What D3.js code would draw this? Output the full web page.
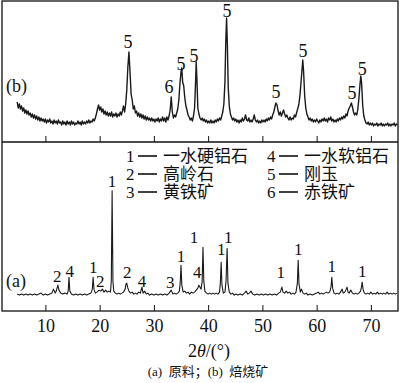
<!DOCTYPE html>
<html>
<head>
<meta charset="utf-8">
<script src="https://cdnjs.cloudflare.com/ajax/libs/d3/7.8.5/d3.min.js"></script>
<style>
	body { margin: 0; background: #fff; }
	svg text { font-family: "Liberation Serif", "Noto Sans CJK SC", serif; fill: #111; }
</style>
</head>
<body>
<div id="chart"></div>
<script>
// (b) roasted ore, [2theta, counts]
var scanB = [
	[4.8,40],[5.0,34],[5.2,38],[5.4,33],[5.6,36],[5.8,31],[6.0,34],[6.2,29],[6.4,32],[6.6,28],[6.8,31],[7.0,27],[7.2,29],[7.4,25],[7.6,28],[7.8,24],
	[8.0,27],[8.2,23],[8.4,26],[8.6,22],[8.8,25],[9.0,21],[9.2,24],[9.4,21],[9.6,23],[9.8,20],[10.0,23],[10.2,19],[10.4,22],[10.6,20],[10.8,23],
	[11.0,19],[11.2,21],[11.4,18],[11.6,22],[11.8,19],[12.0,21],[12.2,18],[12.4,22],[12.6,19],[12.8,20],[13.0,17],[13.2,21],[13.4,18],[13.6,20],
	[13.8,17],[14.0,21],[14.2,18],[14.4,20],[14.6,17],[14.8,21],[15.0,18],[15.2,20],[15.4,17],[15.6,19],[15.8,18],[16.0,21],[16.2,18],[16.4,20],
	[16.6,17],[16.8,21],[17.0,18],[17.2,20],[17.4,18],[17.6,21],[17.8,19],[18.0,22],[18.2,19],[18.4,21],[18.6,20],[18.8,23],[19.0,21],[19.2,24],
	[19.4,28],[19.6,33],[19.8,37],[20.0,32],[20.2,35],[20.4,30],[20.6,33],[20.8,28],[21.0,31],[21.2,27],[21.4,30],[21.6,26],[21.8,29],[22.0,26],
	[22.2,30],[22.4,25],[22.6,28],[22.8,26],[23.0,29],[23.2,25],[23.4,28],[23.6,26],[23.8,30],[24.0,27],[24.2,31],[24.4,36],[24.6,30],[24.8,38],
	[25.0,52],[25.2,75],[25.4,90],[25.6,70],[25.8,48],[26.0,42],[26.2,33],[26.4,36],[26.6,29],[26.8,31],[27.0,26],[27.2,29],[27.4,25],[27.6,28],
	[27.8,24],[28.0,27],[28.2,23],[28.4,26],[28.6,22],[28.8,25],[29.0,22],[29.2,24],[29.4,21],[29.6,24],[29.8,21],[30.0,23],[30.2,20],[30.4,23],
	[30.6,21],[30.8,24],[31.0,20],[31.2,23],[31.4,21],[31.6,25],[31.8,21],[32.0,24],[32.2,20],[32.4,25],[32.6,22],[32.8,26],[33.0,32],[33.2,45],
	[33.4,30],[33.6,24],[33.8,27],[34.0,25],[34.2,29],[34.4,33],[34.6,42],[34.8,58],[35.0,70],[35.15,74],[35.3,60],[35.5,56],[35.7,44],[35.9,36],
	[36.1,32],[36.3,27],[36.5,25],[36.7,22],[36.9,24],[37.1,21],[37.3,26],[37.5,34],[37.7,62],[37.8,80],[37.95,60],[38.1,34],[38.3,28],[38.5,24],
	[38.7,22],[38.9,24],[39.1,21],[39.3,23],[39.5,20],[39.7,22],[39.9,19],[40.1,21],[40.3,19],[40.5,22],[40.7,19],[40.9,21],[41.1,19],[41.3,22],
	[41.5,20],[41.7,23],[41.9,21],[42.1,24],[42.3,22],[42.5,26],[42.7,30],[42.9,38],[43.1,60],[43.25,100],[43.4,124],[43.55,96],[43.7,55],[43.9,36],
	[44.1,28],[44.3,25],[44.5,22],[44.7,24],[44.9,21],[45.1,23],[45.3,20],[45.5,22],[45.7,19],[45.9,22],[46.1,20],[46.3,24],[46.5,21],[46.7,23],
	[46.9,27],[47.1,22],[47.3,21],[47.5,24],[47.7,20],[47.9,22],[48.1,20],[48.3,23],[48.5,27],[48.7,22],[48.9,20],[49.1,22],[49.3,19],[49.5,21],
	[49.7,19],[49.9,22],[50.1,20],[50.3,22],[50.5,20],[50.7,23],[50.9,21],[51.1,24],[51.3,22],[51.5,25],[51.7,23],[51.9,27],[52.1,30],[52.3,35],
	[52.5,39],[52.7,37],[52.9,31],[53.1,27],[53.3,30],[53.5,26],[53.7,29],[53.9,32],[54.1,28],[54.3,25],[54.5,27],[54.7,24],[54.9,22],[55.1,25],
	[55.3,22],[55.5,24],[55.7,23],[55.9,27],[56.1,25],[56.3,29],[56.5,33],[56.7,37],[56.9,45],[57.1,58],[57.3,72],[57.45,82],[57.6,70],[57.8,46],
	[58.0,34],[58.2,28],[58.4,25],[58.6,22],[58.8,24],[59.0,21],[59.2,23],[59.4,20],[59.6,22],[59.8,20],[60.0,23],[60.2,21],[60.4,19],[60.6,22],
	[60.8,20],[61.0,23],[61.2,21],[61.4,24],[61.6,21],[61.8,23],[62.0,20],[62.2,24],[62.4,22],[62.6,25],[62.8,21],[63.0,23],[63.2,20],[63.4,22],
	[63.6,20],[63.8,23],[64.0,21],[64.2,24],[64.4,22],[64.6,25],[64.8,23],[65.0,26],[65.2,24],[65.4,28],[65.6,26],[65.8,31],[66.0,34],[66.2,36],
	[66.4,39],[66.6,35],[66.8,30],[67.0,27],[67.2,29],[67.4,27],[67.6,33],[67.8,44],[68.0,58],[68.15,66],[68.3,58],[68.5,36],[68.7,26],[68.9,22],
	[69.1,19],[69.3,18],[69.5,20],[69.7,17],[69.9,19],[70.1,17],[70.3,19],[70.5,16],[70.7,18],[70.9,17],[71.1,19],[71.3,16],[71.5,18],[71.7,17],
	[71.9,19],[72.1,16],[72.3,18],[72.5,16],[72.7,18],[72.9,17],[73.1,19],[73.3,16],[73.5,18],[73.7,16],[73.9,18],[74.1,17],[74.3,19],[74.5,16],
	[74.7,18],[74.9,17]
];

// (a) raw ore
var scanA = [
	[4.8,17],[5.2,16],[5.6,17],[6.0,16],[6.4,17],[6.8,16],[7.2,17],[7.6,16],[8.0,17],[8.4,16],[8.8,17],[9.2,18],[9.6,16],[10.0,17],[10.4,16],
	[10.8,17],[11.2,18],[11.5,22],[11.8,18],[12.0,20],[12.3,26],[12.5,21],[12.8,18],[13.2,17],[13.6,18],[14.0,17],[14.2,20],[14.35,34],[14.5,20],
	[14.8,17],[15.2,16],[15.6,17],[16.0,16],[16.4,17],[16.8,16],[17.2,17],[17.6,16],[18.0,17],[18.4,18],[18.65,22],[18.8,34],[18.95,22],[19.2,18],
	[19.5,19],[19.9,21],[20.2,20],[20.5,22],[20.8,19],[21.1,21],[21.4,19],[21.7,20],[22.0,19],[22.15,30],[22.3,121],[22.45,30],[22.6,20],[22.9,18],
	[23.2,17],[23.5,18],[23.8,17],[24.1,18],[24.4,19],[24.7,22],[24.85,27],[25.0,28],[25.15,24],[25.4,20],[25.7,18],[26.0,19],[26.3,17],[26.6,18],
	[26.9,17],[27.2,19],[27.5,18],[27.8,24],[28.0,18],[28.3,20],[28.6,17],[28.9,18],[29.2,16],[29.6,17],[30.0,16],[30.4,17],[30.8,16],[31.2,17],
	[31.6,16],[32.0,17],[32.4,16],[32.8,18],[33.2,21],[33.5,17],[33.8,18],[34.1,17],[34.4,18],[34.7,20],[34.85,28],[35.0,46],[35.15,26],[35.4,19],
	[35.7,20],[36.0,18],[36.3,19],[36.6,17],[36.9,19],[37.2,18],[37.5,19],[37.8,21],[38.1,23],[38.3,26],[38.5,24],[38.7,22],[38.9,30],[39.05,64],
	[39.2,30],[39.4,20],[39.7,18],[40.0,17],[40.3,18],[40.6,17],[40.9,18],[41.2,17],[41.5,18],[41.8,17],[42.1,19],[42.25,28],[42.4,49],[42.55,26],
	[42.8,18],[43.1,19],[43.3,30],[43.5,63],[43.65,28],[43.9,19],[44.2,17],[44.5,18],[44.8,16],[45.1,17],[45.5,16],[45.9,17],[46.3,16],[46.7,18],
	[47.0,20],[47.3,17],[47.6,18],[47.9,20],[48.2,17],[48.6,16],[49.0,17],[49.4,16],[49.8,17],[50.2,16],[50.6,17],[51.0,16],[51.4,17],[51.8,16],
	[52.2,17],[52.6,16],[53.0,18],[53.3,19],[53.6,24],[53.8,19],[54.1,18],[54.4,20],[54.7,18],[55.0,19],[55.3,17],[55.6,18],[55.9,17],[56.2,19],
	[56.45,28],[56.6,51],[56.75,27],[57.0,19],[57.2,22],[57.5,18],[57.8,17],[58.1,18],[58.4,16],[58.8,17],[59.2,16],[59.6,17],[60.0,18],[60.3,19],
	[60.6,17],[60.9,18],[61.2,17],[61.5,18],[61.8,19],[62.1,18],[62.4,19],[62.65,24],[62.8,34],[62.95,23],[63.2,18],[63.5,17],[63.8,18],[64.1,17],
	[64.4,19],[64.7,22],[64.9,18],[65.2,19],[65.45,22],[65.6,24],[65.8,19],[66.0,18],[66.3,21],[66.6,18],[66.9,17],[67.2,18],[67.5,17],[67.8,18],
	[68.1,20],[68.25,24],[68.4,29],[68.55,22],[68.8,18],[69.1,17],[69.4,18],[69.7,17],[70.0,19],[70.3,17],[70.6,18],[70.9,17],[71.2,19],[71.5,17],
	[71.8,18],[72.1,17],[72.4,18],[72.7,17],[73.0,19],[73.3,17],[73.6,18],[73.9,17],[74.2,18],[74.5,17],[74.8,18]
];

// peak marks: [2theta, phase no., text baseline level]
var marksB = [[25.25,"5",94],[32.8,"6",49],[35.0,"5",72],[37.4,"5",80],[43.5,"5",125],[52.5,"5",44],[57.5,"5",85],[66.5,"5",43],[68.4,"5",67]];
var marksA = [[12.2,"2",29],[14.5,"4",34],[18.8,"1",38],[20.1,"2",24],[22.3,"1",125],[25.1,"2",33],[27.8,"4",24],[33.0,"3",23],[35.0,"1",49],
	[37.4,"1",68],[38.0,"4",33],[42.4,"1",56],[43.7,"1",68],[53.4,"1",33],[56.6,"1",56],[62.8,"1",39],[68.4,"1",34]];

var phaseKeys = ["1", "2", "3", "4", "5", "6"];
var phaseNames = ["一水硬铝石", "高岭石", "黄铁矿", "一水软铝石", "刚玉", "赤铁矿"];
var xTicks = [10, 20, 30, 40, 50, 60, 70];

var width = 400,
	height = 383,
	plotLeft = 2, plotRight = 398, plotTop = 1, plotMid = 142, plotBottom = 311;

var svg = d3.select("#chart").append("svg")
	.attr("width", width)
	.attr("height", height);

var x = d3.scaleLinear().domain([2, 75]).range([plotLeft, plotRight]);
var yB = d3.scaleLinear().domain([0, 140]).range([plotMid, plotTop + 1]);
var yA = d3.scaleLinear().domain([0, 170]).range([plotBottom, plotMid]);

function drawPanel(scan, marks, y, y0, name, nameLevel, fontSize, strokeW) {
	var line = d3.line()
		.x(function(d) { return x(d[0]); })
		.y(function(d) { return y(d[1]); });

	svg.append("path")
		.datum(scan)
		.attr("d", line)
		.attr("fill", "none")
		.attr("stroke", "#1a1a1a")
		.attr("stroke-width", strokeW)
		.attr("stroke-linejoin", "round");

	svg.selectAll(null)
		.data(marks)
		.enter().append("text")
		.attr("x", function(d) { return x(d[0]); })
		.attr("y", function(d) { return y(d[2]); })
		.attr("text-anchor", "middle")
		.style("font-size", fontSize + "px")
		.text(function(d) { return d[1]; });

	svg.append("text")
		.attr("x", 6)
		.attr("y", y(nameLevel))
		.style("font-size", "18px")
		.text(name);

	var axis = d3.axisBottom(x).tickValues(xTicks).tickSize(-6).tickFormat("");
	var g = svg.append("g").attr("transform", "translate(0," + y0 + ")").call(axis);
	g.select(".domain").remove();
	g.selectAll("line").attr("stroke", "#111");
	return g;
}

drawPanel(scanB, marksB, yB, plotMid, "(b)", 50, 18, 1.4);
drawPanel(scanA, marksA, yA, plotBottom, "(a)", 24, 17, 1.1);

// bottom tick labels
var gx = svg.append("g")
	.attr("transform", "translate(0," + plotBottom + ")")
	.call(d3.axisBottom(x).tickValues(xTicks).tickSize(0).tickPadding(8));
gx.select(".domain").remove();
gx.selectAll("text")
	.style("font-size", "18px")
	.style("font-family", "Liberation Serif, serif")
	.attr("fill", "#111");

// frame and separator
svg.append("rect")
	.attr("x", plotLeft)
	.attr("y", plotTop)
	.attr("width", plotRight - plotLeft)
	.attr("height", plotBottom - plotTop)
	.attr("fill", "none")
	.attr("stroke", "#111")
	.attr("stroke-width", 1.3);

svg.append("line")
	.attr("x1", plotLeft).attr("x2", plotRight)
	.attr("y1", plotMid).attr("y2", plotMid)
	.attr("stroke", "#111")
	.attr("stroke-width", 1.3);

// legend
var legend = svg.append("g");
phaseKeys.forEach(function(k, i) {
	var col = Math.floor(i / 3),
		row = i % 3,
		lx = col === 0 ? 126 : 267,
		ly = 162 + row * 18;

	legend.append("text")
		.attr("x", lx).attr("y", ly)
		.style("font-size", "17px")
		.text(k);
	legend.append("line")
		.attr("x1", lx + 12).attr("x2", lx + 31)
		.attr("y1", ly - 6).attr("y2", ly - 6)
		.attr("stroke", "#111")
		.attr("stroke-width", 1.6);
	legend.append("text")
		.attr("x", lx + 37).attr("y", ly)
		.style("font-size", "17px")
		.text(phaseNames[i]);
});

// axis title and caption
var title = svg.append("text")
	.attr("x", 209)
	.attr("y", 357)
	.attr("text-anchor", "middle")
	.style("font-size", "18px");
title.append("tspan").text("2");
title.append("tspan").style("font-style", "italic").text("θ");
title.append("tspan").text("/(°)");

svg.append("text")
	.attr("x", 208)
	.attr("y", 376)
	.attr("text-anchor", "middle")
	.style("font-size", "13px")
	.attr("xml:space", "preserve")
	.text("(a)  原料；(b)  焙烧矿");
</script>
</body>
</html>
